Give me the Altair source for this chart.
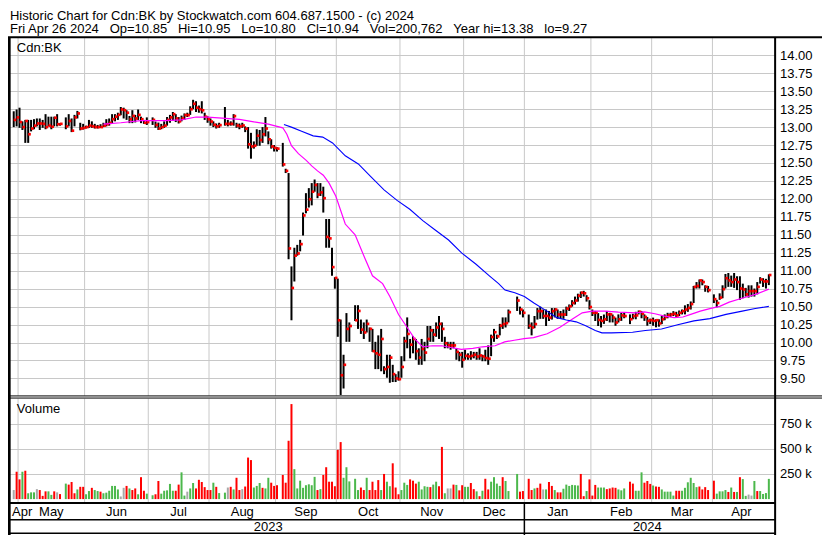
import altair as alt
import pandas as pd
import numpy as np

FONT = "Liberation Sans"
SX = 814 / 830
SY = 527 / 543
W = 767
H = 527
GRID = "#c8c8c8"
RED = "#ff0000"
GREEN = "#4cb84c"
GREY = "#a8a8a8"

# ---------------- data ----------------
holidays = ["2023-05-22", "2023-07-03", "2023-08-07", "2023-09-04", "2023-10-09",
            "2023-12-25", "2023-12-26", "2024-01-01", "2024-02-19", "2024-03-29"]

close = [
    13.10, 13.135, 13.07, 13.00, 13.085, 12.90, 12.98, 13.02, 13.05, 13.05, 13.045, 13.00, 13.02, 13.005, 13.13, 13.04, 13.045,
    13.01, 13.085, 12.95, 13.135, 13.19, 12.98, 12.99, 13.00, 13.02, 13.01, 13.00, 13.00, 13.00, 13.02, 13.04, 13.06, 13.11, 13.145,
    13.17, 13.245, 13.235, 13.20, 13.11, 13.155, 13.12, 13.17, 13.11, 13.06, 13.07,
    13.10, 13.03, 12.98, 13.00, 13.02, 13.10, 13.135, 13.18, 13.12, 13.08, 13.12, 13.167, 13.167, 13.248, 13.324, 13.27, 13.248,
    13.234, 13.144, 13.108, 13.077, 13.032, 13.01, 13.027,
    13.045, 13.045, 13.045, 13.153, 13.022, 13.01, 13.022, 12.977, 12.76, 12.73, 12.74, 12.88, 12.82, 12.90, 12.98, 12.83, 12.73,
    12.71, 12.70,
    12.48, 12.39, 11.31, 10.76, 11.21, 11.24, 11.37, 11.77, 11.85, 11.995, 12.10, 12.194, 12.06, 12.09, 12.01, 11.47, 11.45, 11.05,
    10.90, 10.31, 9.545, 9.69, 10.19, 10.23,
    10.31, 10.44, 10.18, 10.14, 10.26, 10.19, 9.88, 9.85, 9.83, 10.05, 9.63, 9.66, 9.79, 9.56, 9.50, 9.49, 9.66, 10.02, 10.12, 9.97,
    10.05, 9.88, 9.79, 9.91, 9.86, 10.05, 10.17, 10.11, 10.21, 10.26, 10.19, 9.99, 9.96, 9.96, 9.96, 9.87, 9.83, 9.76, 9.815, 9.806,
    9.815, 9.83, 9.806, 9.82, 9.806, 9.784, 9.775, 10.077, 10.144, 10.086, 10.234, 10.257, 10.27, 10.423,
    10.585, 10.46, 10.414,
    10.234, 10.21, 10.257, 10.437, 10.437, 10.37, 10.37, 10.347, 10.437, 10.46, 10.39, 10.39, 10.39, 10.473, 10.504, 10.55, 10.585,
    10.653, 10.694, 10.685, 10.617, 10.495, 10.414, 10.414, 10.315, 10.302, 10.324, 10.392, 10.392, 10.347, 10.279, 10.324, 10.378,
    10.369,
    10.324, 10.369, 10.378, 10.428, 10.401, 10.356, 10.302, 10.311, 10.302, 10.311, 10.266, 10.324, 10.356, 10.378, 10.392, 10.401,
    10.378, 10.414, 10.437, 10.46, 10.482, 10.536, 10.775, 10.788, 10.865, 10.842, 10.775, 10.73,
    10.604, 10.55, 10.626, 10.743, 10.896, 10.865, 10.842, 10.878, 10.842, 10.752, 10.739, 10.671, 10.716, 10.716, 10.716, 10.775,
    10.878, 10.851, 10.851, 10.94,
]

high = [
    13.22, 13.245, 13.27, 13.08, 13.10, 13.10, 13.10, 13.11, 13.12, 13.12, 13.10, 13.18, 13.145, 13.145, 13.145, 13.18, 13.055,
    13.135, 13.18, 13.12, 13.17, 13.225, 13.06, 13.045, 13.02, 13.10, 13.08, 13.045, 13.03, 13.04, 13.06, 13.11, 13.12, 13.18, 13.18,
    13.20, 13.28, 13.27, 13.235, 13.155, 13.235, 13.17, 13.245, 13.145, 13.10, 13.135,
    13.135, 13.077, 13.063, 13.045, 13.08, 13.14, 13.17, 13.21, 13.18, 13.14, 13.16, 13.19, 13.20, 13.29, 13.38, 13.36, 13.30,
    13.36, 13.20, 13.15, 13.12, 13.08, 13.05, 13.06,
    13.28, 13.10, 13.08, 13.18, 13.06, 13.05, 13.06, 13.01, 13.00, 12.92, 12.80, 12.97, 12.96, 13.00, 13.14, 12.94, 12.83, 12.75, 12.72,
    12.78, 12.42, 12.36, 11.06, 11.32, 11.36, 11.43, 11.81, 12.08, 12.15, 12.22, 12.27, 12.22, 12.22, 12.17, 11.72, 11.72, 11.32,
    10.91, 10.89, 10.32, 9.83, 10.41, 10.28,
    10.52, 10.52, 10.32, 10.28, 10.32, 10.21, 10.19, 10.01, 10.10, 10.19, 9.67, 9.83, 9.83, 9.69, 9.56, 9.60, 9.81, 10.08, 10.35, 10.05,
    10.09, 10.05, 9.92, 10.05, 10.01, 10.23, 10.23, 10.19, 10.28, 10.37, 10.28, 10.08, 10.01, 10.01, 10.01, 9.92, 9.87, 9.87, 9.90, 9.85,
    9.88, 9.87, 9.87, 9.92, 9.83, 9.90, 9.96, 10.11, 10.19, 10.11, 10.26, 10.35, 10.35, 10.46,
    10.64, 10.50, 10.46,
    10.39, 10.28, 10.37, 10.48, 10.50, 10.46, 10.46, 10.44, 10.48, 10.48, 10.46, 10.44, 10.46, 10.50, 10.53, 10.59, 10.64, 10.68,
    10.71, 10.72, 10.66, 10.59, 10.46, 10.44, 10.41, 10.37, 10.39, 10.44, 10.414, 10.39, 10.347, 10.392, 10.414, 10.414,
    10.392, 10.401, 10.428, 10.446, 10.437, 10.392, 10.356, 10.333, 10.347, 10.324, 10.324, 10.369, 10.392, 10.414, 10.414, 10.437,
    10.428, 10.446, 10.46, 10.518, 10.536, 10.572, 10.788, 10.842, 10.878, 10.878, 10.797, 10.788,
    10.671, 10.595, 10.685, 10.797, 10.955, 10.968, 10.932, 10.968, 10.923, 10.923, 10.82, 10.761, 10.797, 10.797, 10.752, 10.842,
    10.91, 10.896, 10.887, 10.95,
]

low = [
    13.00, 13.01, 12.99, 12.96, 12.78, 12.78, 12.94, 12.97, 13.01, 12.96, 12.99, 12.97, 13.01, 12.97, 13.01, 13.01, 13.02,
    12.97, 13.01, 12.93, 13.01, 13.12, 12.955, 12.965, 12.98, 12.99, 12.99, 12.98, 12.98, 12.99, 13.00, 13.01, 13.02, 13.055, 13.08,
    13.10, 13.165, 13.12, 13.10, 13.055, 13.055, 13.065, 13.10, 13.055, 13.045, 13.03,
    13.03, 12.99, 12.96, 12.97, 12.99, 13.02, 13.06, 13.09, 13.07, 13.05, 13.08, 13.10, 13.14, 13.17, 13.25, 13.21, 13.20,
    13.19, 13.10, 13.06, 13.02, 13.00, 12.98, 12.99,
    13.02, 13.01, 13.02, 13.02, 12.99, 12.97, 12.99, 12.93, 12.70, 12.56, 12.70, 12.74, 12.74, 12.78, 12.87, 12.76, 12.70, 12.66, 12.66,
    12.45, 12.36, 11.16, 10.31, 10.85, 11.21, 11.27, 11.49, 11.80, 11.88, 11.91, 12.10, 12.01, 12.04, 11.81, 11.32, 11.32, 10.93,
    10.75, 10.08, 9.27, 9.36, 10.01, 10.01,
    10.30, 10.19, 10.12, 10.05, 10.14, 10.01, 9.87, 9.63, 9.63, 9.60, 9.56, 9.51, 9.44, 9.45, 9.45, 9.47, 9.51, 9.74, 9.92, 9.78,
    9.85, 9.76, 9.69, 9.69, 9.74, 9.92, 10.01, 10.01, 10.08, 10.05, 10.01, 9.92, 9.92, 9.90, 9.92, 9.76, 9.74, 9.65, 9.76, 9.76,
    9.76, 9.78, 9.76, 9.76, 9.74, 9.74, 9.69, 9.81, 10.01, 10.05, 10.10, 10.19, 10.21, 10.28,
    10.44, 10.39, 10.35,
    10.19, 10.10, 10.20, 10.32, 10.33, 10.33, 10.23, 10.30, 10.32, 10.35, 10.33, 10.33, 10.33, 10.37, 10.44, 10.50, 10.53, 10.57,
    10.62, 10.64, 10.57, 10.46, 10.37, 10.30, 10.23, 10.21, 10.26, 10.30, 10.28, 10.28, 10.234, 10.279, 10.302, 10.338,
    10.257, 10.324, 10.324, 10.392, 10.338, 10.302, 10.234, 10.257, 10.234, 10.212, 10.221, 10.257, 10.311, 10.338, 10.356, 10.369,
    10.347, 10.369, 10.392, 10.392, 10.428, 10.46, 10.55, 10.752, 10.752, 10.797, 10.707, 10.698,
    10.55, 10.491, 10.595, 10.617, 10.752, 10.775, 10.775, 10.761, 10.73, 10.595, 10.617, 10.64, 10.626, 10.64, 10.64, 10.671,
    10.82, 10.775, 10.752, 10.80,
]

volume_k = [
    90, 272, 196, 272, 282, 58, 67, 67, 99, 90, 32, 77, 77, 42, 77, 67, 50,
    154, 144, 170, 58, 96, 122, 122, 48, 80, 112, 90, 80, 74, 58, 64, 83, 131, 131, 96, 26, 112, 131, 106, 90, 106, 48, 218, 83, 54,
    38, 48, 180, 54, 83, 87, 151, 83, 83, 144, 266, 35, 74, 106, 160, 106, 192, 170, 119, 90, 90, 163, 122, 60,
    64, 115, 122, 96, 212, 90, 99, 125, 413, 388, 115, 131, 160, 112, 106, 212, 163, 131, 138,
    240, 163, 580, 945, 298, 106, 183, 112, 138, 147, 138, 221, 90, 99, 240, 317, 173, 173, 128, 490, 567, 212, 317, 176,
    202, 90, 115, 90, 212, 90, 173, 90, 189, 90, 250, 173, 128, 356, 115, 48, 90, 163, 141, 196, 183, 154,
    173, 96, 128, 122, 119, 144, 173, 128, 519, 58, 106, 106, 144, 141, 87, 138, 122, 122, 160, 99, 77, 29, 83, 202, 96, 173,
    218, 154, 131, 218, 180, 80,
    250, 74, 80,
    202, 90, 106, 112, 154, 96, 96, 170, 131, 90, 67, 67, 103, 144, 131, 141, 138, 135, 250, 29, 80, 196, 35, 141, 115, 115, 115,
    99, 106, 115, 112, 96, 87, 106,
    173, 154, 83, 83, 266, 163, 180, 151, 135, 125, 122, 96, 74, 74, 74, 35, 83, 83, 83, 112, 167, 212, 160, 119, 125, 96, 119, 90,
    183, 54, 77, 77, 90, 71, 115, 71, 71, 218, 199, 32, 45, 35, 180, 80, 80, 51, 60, 201,
]

direction = (
    "n d d u d u u u n d d d u u d n d "
    "u d d d u d d u u d u u d u u u u u u n n d u d d u d d u "
    "u d d u u u u u d d u u n u u d d d d d d u d u "
    "u n d u d d n d d d u u u d u u d d d "
    "d d d d u u u u u u u u d u d d d d d d d u u u "
    "u u d d u d d d d u d u u d d d u u u d d d "
    "u u u u d u u d d u n n d u d d u u d d u d u d d u u u u d u u "
    "u d d "
    "d d u d d n u d d u d d u u u u u u d d u d d d u u u d d d d u u u "
    "d d u u u d d d u d d u u u u u d d u u u u u u d d d d "
    "d u u u u d u d u d u u n n u d u u u u"
).split()

# moving averages (trading-day position, price)
ma30_day = [31, 37, 44, 52, 58, 63, 67, 72, 78, 83, 88, 90, 93, 94.4, 96, 98.4, 101, 103, 105, 107,
            109, 111.3, 114.6, 118, 121.3, 124, 127.5, 130, 133, 136, 138.6, 141.4, 144.7, 148, 151.4, 154.7,
            158.7, 162, 166.4, 169.7, 173, 176.4, 179.7, 184.4, 188.8, 193, 196.5, 200, 204.5, 209, 215, 218,
            221.6, 225, 228.3, 231.3, 234, 237.3, 240.6, 244, 247.3, 251.7, 256.4, 261]
ma30_val = [13.04, 13.06, 13.09, 13.09, 13.10, 13.14, 13.14, 13.126, 13.108, 13.072, 13.04, 13.02, 12.99, 12.90,
            12.74, 12.63, 12.54, 12.46, 12.39, 12.33, 12.22, 12.04, 11.65, 11.50, 11.18, 10.93, 10.82, 10.64, 10.39,
            10.21, 10.05, 9.94, 9.955, 9.955, 9.928, 9.905, 9.919, 9.941, 9.955, 10.009, 10.032, 10.054, 10.068,
            10.122, 10.212, 10.324, 10.414, 10.437, 10.437, 10.423, 10.414, 10.428, 10.401, 10.369, 10.347, 10.356,
            10.392, 10.437, 10.473, 10.504, 10.563, 10.617, 10.671, 10.743]
ma90_day = [93.4, 96.2, 99.5, 103.5, 106.8, 110.2, 114.6, 119.1, 123.5, 128, 132.5, 136.9, 141.4, 145.8, 150.3,
            154.8, 159.8, 164.3, 167.6, 169.8, 173.2, 176.5, 179.8, 184.3, 187.7, 191, 194.4, 197.7, 201, 203.3,
            206.6, 213.9, 218.3, 223.9, 229.5, 235.1, 240.6, 246.2, 251.8, 256.3, 261]
ma90_val = [13.035, 12.996, 12.941, 12.878, 12.86, 12.779, 12.60, 12.487, 12.306, 12.126, 11.98, 11.856, 11.698,
            11.563, 11.428, 11.248, 11.09, 10.932, 10.82, 10.73, 10.694, 10.64, 10.55, 10.437, 10.347, 10.315, 10.288,
            10.234, 10.167, 10.135, 10.135, 10.144, 10.167, 10.189, 10.248, 10.302, 10.333, 10.392, 10.437, 10.473,
            10.504]

price_ticks = [9.5 + 0.25 * i for i in range(19)]
volume_ticks = [250000, 500000, 750000]

header1 = "Historic Chart for Cdn:BK by Stockwatch.com 604.687.1500 - (c) 2024"
header2_parts = ["Fri Apr 26 2024", "Op=10.85", "Hi=10.95", "Lo=10.80", "Cl=10.94",
                 "Vol=200,762", "Year hi=13.38", "lo=9.27"]

# ---------------- tables ----------------
dates = pd.bdate_range("2023-04-27", "2024-04-26")
is_hol = dates.isin(pd.to_datetime(holidays))
pos = np.arange(len(dates))
df = pd.DataFrame({
    "day": pos[~is_hol],
    "date": dates[~is_hol].strftime("%Y-%m-%d"),
    "high": high, "low": low, "close": close,
    "volume": np.array(volume_k) * 1000,
    "dir": direction,
})

ser = pd.Series(pos, index=dates)
grp = ser.groupby([dates.year, dates.month])
m_first, m_last = grp.min(), grp.max()
months_all = pd.DataFrame({
    "label": [pd.Timestamp(y, m, 1).strftime("%b") for (y, m) in m_first.index],
    "mid": ((m_first + m_last) / 2).values,
})
first_month = months_all.iloc[0]["label"]       # partial month at the left edge
months_df = months_all.iloc[1:].reset_index(drop=True)
grid_df = pd.DataFrame({"gpos": m_first.values[1:] - 0.5})
ygrp = ser.groupby(dates.year)
years_df = pd.DataFrame({"label": [str(y) for y in ygrp.min().index],
                         "mid": ((ygrp.min() + ygrp.max()) / 2).values})
sep_df = pd.DataFrame({"gpos": [ygrp.min().values[1] - 0.5]})

ma30_df = pd.DataFrame({"day": ma30_day, "ma": ma30_val})
ma90_df = pd.DataFrame({"day": ma90_day, "ma": ma90_val})
one = pd.DataFrame({"k": [0]})

# ---------------- scales ----------------
XS = alt.Scale(domain=[-0.251, 261.40], nice=False, zero=False)
PS = alt.Scale(domain=[9.5, 14.0], range=[SY * 381.7, SY * 48.7], nice=False, zero=False)
VS = alt.Scale(domain=[0, 750000], range=[SY * 506, SY * 428.3], nice=False, zero=False)

price_axis = alt.Axis(orient="right", values=price_ticks, format=".2f", grid=True, gridColor=GRID,
                      gridWidth=1, domain=False, ticks=False, labelPadding=4.5, labelFontSize=13,
                      labelFont=FONT, labelColor="black", title=None, labelOverlap=False)
vol_axis = alt.Axis(orient="right", values=volume_ticks, labelExpr="(datum.value / 1000) + ' k'",
                    grid=True, gridColor=GRID, gridWidth=1, domain=False, ticks=False, labelPadding=4.5,
                    labelFontSize=13, labelFont=FONT, labelColor="black", title=None, labelOverlap=False)

X = alt.X("day:Q", scale=XS, axis=None)

# ---------------- layers ----------------
vgrid_p = alt.Chart(grid_df).mark_rule(color=GRID, strokeWidth=1).encode(
    x=alt.X("gpos:Q", scale=XS, axis=None), y=alt.value(SY * 31), y2=alt.value(SY * 399.5))
vgrid_v = alt.Chart(grid_df).mark_rule(color=GRID, strokeWidth=1).encode(
    x=alt.X("gpos:Q", scale=XS, axis=None), y=alt.value(SY * 402.5), y2=alt.value(SY * 509.5))

bars = alt.Chart(df).mark_rule(color="black", strokeWidth=2).encode(
    x=X, y=alt.Y("low:Q", scale=PS, axis=price_axis, title=None), y2="high:Q")
ticks = alt.Chart(df).mark_square(color=RED, size=7, opacity=1, xOffset=1.3).encode(
    x=X, y=alt.Y("close:Q", scale=PS, axis=price_axis, title=None))
line30 = alt.Chart(ma30_df).mark_line(color="#ff00ff", strokeWidth=1.2).encode(
    x=X, y=alt.Y("ma:Q", scale=PS, axis=price_axis, title=None))
line90 = alt.Chart(ma90_df).mark_line(color="#0000ff", strokeWidth=1.1).encode(
    x=X, y=alt.Y("ma:Q", scale=PS, axis=price_axis, title=None))
price = alt.layer(bars, ticks, line30, line90)

vol = alt.Chart(df).mark_bar(size=2).encode(
    x=X, y=alt.Y("volume:Q", scale=VS, axis=vol_axis, title=None), y2=alt.datum(0),
    color=alt.Color("dir:N", scale=alt.Scale(domain=["u", "d", "n"], range=[GREEN, RED, GREY]), legend=None))

month_txt = alt.Chart(months_df).mark_text(font=FONT, fontSize=13, color="black", baseline="alphabetic").encode(
    x=alt.X("mid:Q", scale=XS, axis=None), y=alt.value(SY * 523.5), text="label:N")
year_txt = alt.Chart(years_df).mark_text(font=FONT, fontSize=13, color="black", baseline="alphabetic").encode(
    x=alt.X("mid:Q", scale=XS, axis=None), y=alt.value(SY * 539), text="label:N")
year_sep = alt.Chart(sep_df).mark_rule(color="black", strokeWidth=1.5).encode(
    x=alt.X("gpos:Q", scale=XS, axis=None), y=alt.value(SY * 510), y2=alt.value(SY * 543))


def hline(y, x1, x2, w):
    return alt.Chart(one).mark_rule(color="black", strokeWidth=w).encode(
        x=alt.value(x1), x2=alt.value(x2), y=alt.value(y))


def vline(x, y1, y2, w):
    return alt.Chart(one).mark_rule(color="black", strokeWidth=w).encode(
        x=alt.value(x), y=alt.value(y1), y2=alt.value(y2))


def label(x, y, s, size=13):
    return alt.Chart(one).mark_text(font=FONT, fontSize=size, color="black", align="left",
                                    baseline="alphabetic", text=s).encode(x=alt.value(x), y=alt.value(y))


frame = [
    hline(SY * 30.2, 0, 814, 2),
    vline(1.3, SY * 30, H, 2.7),
    vline(SX * 782.2, SY * 30, H, 2),
    hline(SY * 399.7, 0, 814, 1),
    hline(SY * 401.9, 0, 814, 1),
    hline(SY * 510.1, 0, SX * 782, 2),
    hline(SY * 527.2, 0, SX * 782, 1.5),
    hline(SY * 541.2, 0, SX * 782, 1.5),
]

texts = [
    label(SX * 2, SY * 12, header1),
    label(SX * 2, SY * 26, ("\u00a0" * 3).join(header2_parts)),
    label(SX * 9, SY * 45.5, "Cdn:BK"),
    label(SX * 9, SY * 417.5, "Volume"),
    label(4, SY * 523.5, first_month),
]

chart = alt.layer(
    vgrid_p, vgrid_v, price, vol, month_txt, year_txt, year_sep, *frame, *texts
).resolve_scale(y="independent").properties(
    width=W, height=H,
    autosize=alt.AutoSizeParams(type="none"),
    padding={"left": 0, "top": 0, "right": 47, "bottom": 0},
).configure_view(stroke=None)

chart.save("out.html", embed_options={"renderer": "svg", "actions": False})
